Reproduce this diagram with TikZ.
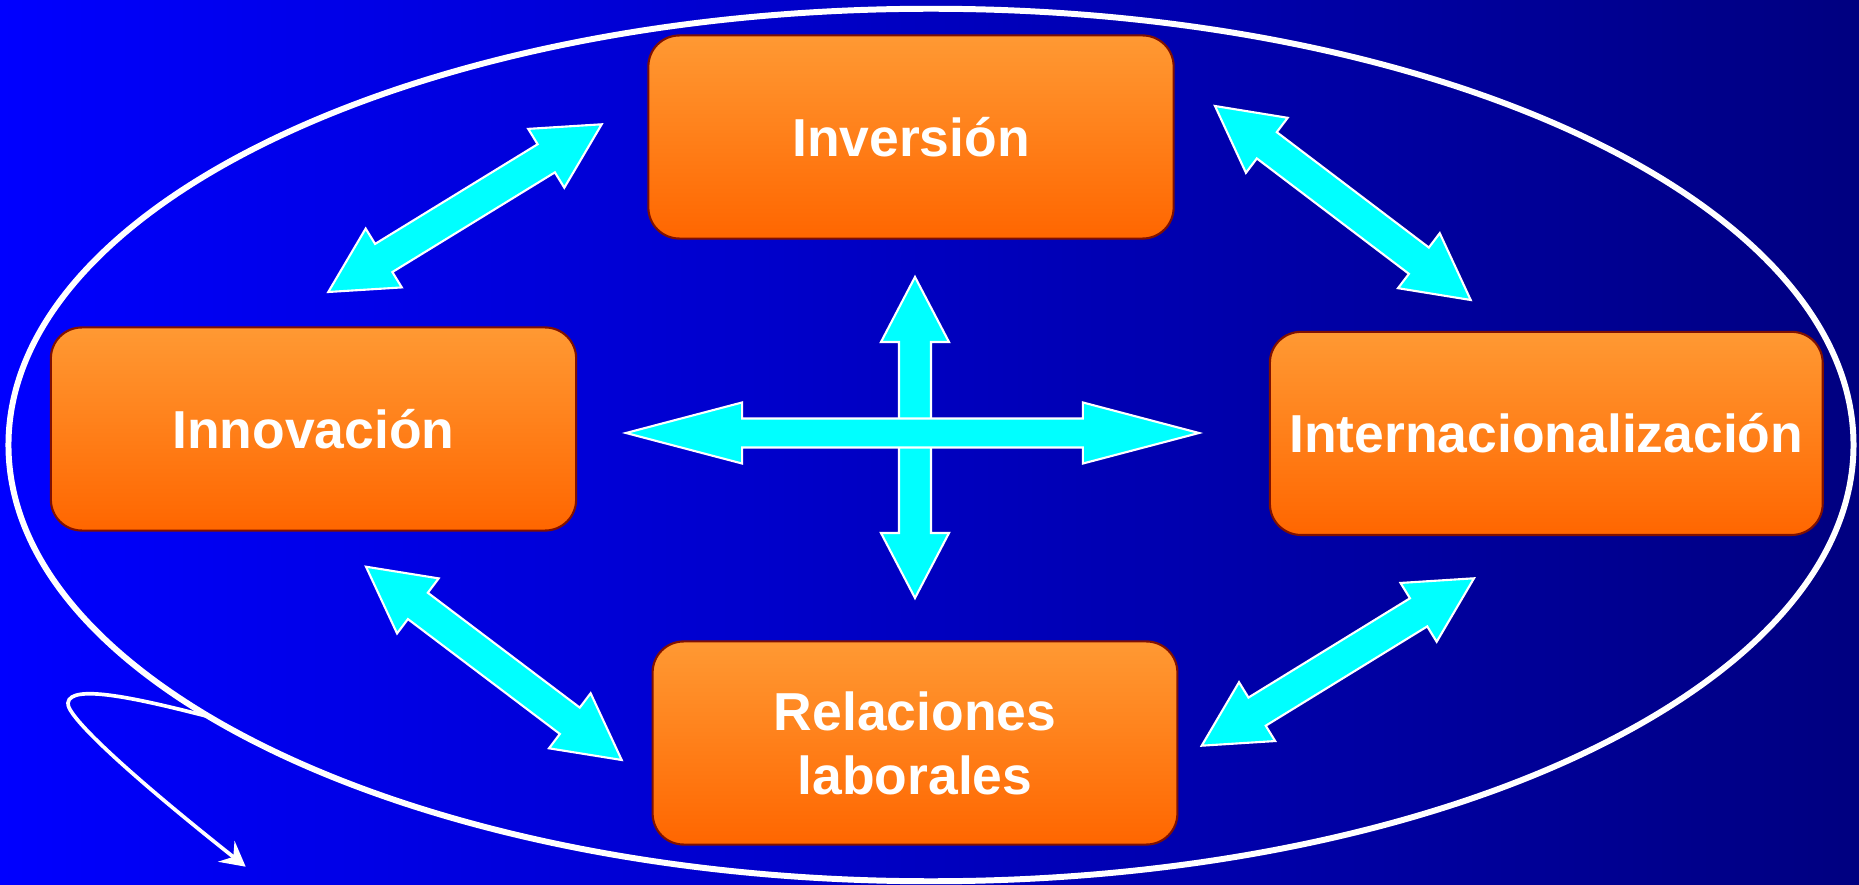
\documentclass[tikz,border=0pt]{standalone}
\usepackage{fontspec}
\setmainfont{Liberation Sans}
\usetikzlibrary{calc,arrows.meta}
\definecolor{bgleft}{RGB}{0,0,255}
\definecolor{bgright}{RGB}{0,0,128}
\definecolor{boxtop}{RGB}{255,153,51}
\definecolor{boxbot}{RGB}{255,102,0}
\definecolor{boxline}{RGB}{128,16,0}
\definecolor{arrowfill}{RGB}{0,255,255}
\tikzset{
  box/.style={rectangle, rounded corners=0.31cm, top color=boxtop, bottom color=boxbot,
    draw=boxline, line width=0.6pt, minimum height=2.03cm, inner sep=0pt,
    font=\fontsize{15.2}{18.2}\selectfont\bfseries, text=white, align=center},
  oneline/.style={text height=10.9pt, text depth=0pt},
  fatarrowstyle/.style={fill=arrowfill, draw=white, line width=0.6pt, line join=miter},
  ring/.style={draw=white, line width=1.7pt},
  curl/.style={draw=white, line width=1.05pt, -{Stealth[length=7pt,width=7.5pt,inset=2.5pt]}},
}
% #1 from, #2 to, #3 half shaft width, #4 half head width, #5 head length
\newcommand\fatarrow[5]{%
  \path[fatarrowstyle] let \p1=(#1), \p2=(#2), \n1={atan2(\y2-\y1,\x2-\x1)} in
    (\p1) -- ($(\p1)+(\n1:#5)+(\n1+90:#4)$) -- ($(\p1)+(\n1:#5)+(\n1+90:#3)$)
    -- ($(\p2)+(\n1+180:#5)+(\n1+90:#3)$) -- ($(\p2)+(\n1+180:#5)+(\n1+90:#4)$)
    -- (\p2) -- ($(\p2)+(\n1+180:#5)+(\n1-90:#4)$) -- ($(\p2)+(\n1+180:#5)+(\n1-90:#3)$)
    -- ($(\p1)+(\n1:#5)+(\n1-90:#3)$) -- ($(\p1)+(\n1:#5)+(\n1-90:#4)$) -- cycle;%
}
\begin{document}
\begin{tikzpicture}[x=0.01cm, y=-0.01cm]
\useasboundingbox (0,0) rectangle (1859,885);
\shade[left color=bgleft, right color=bgright] (0,0) rectangle (1859,885);

% outer ring and curl arrow
\draw[ring] (931,445) ellipse [x radius=9.22cm, y radius=4.36cm];
\coordinate (curlstart) at (210,717);
\coordinate (curlend) at (245.7,866.7);
\draw[curl] (curlstart) .. controls (140,699) and (70,683) .. (68,703)
  .. controls (66,716) and (130,775) .. (curlend);

% boxes
\node[box, oneline, minimum width=5.25cm] (inv) at (911,137) {Inversión};
\node[box, oneline, minimum width=5.25cm] (inn) at (313.5,429) {Innovación};
\node[box, oneline, minimum width=5.525cm] (int) at (1546.3,433.4) {Internacionalización};
\node[box, minimum width=5.245cm] (rel) at (915,743) {Relaciones\\laborales};

% arrow end points
\coordinate (tlA) at (328.3,292);   \coordinate (tlB) at (601.7,124.3);
\coordinate (trA) at (1215,106);    \coordinate (trB) at (1470.7,300);
\coordinate (blA) at (366,566.7);   \coordinate (blB) at (621.7,760);
\coordinate (brA) at (1201.7,745.7);\coordinate (brB) at (1474,578.3);
\coordinate (vA) at (915,277);      \coordinate (vB) at (915,598);
\coordinate (hA) at (626,433);      \coordinate (hB) at (1199,433);

% diagonal double arrows
\fatarrow{tlA}{tlB}{0.165cm}{0.345cm}{0.65cm}
\fatarrow{trA}{trB}{0.165cm}{0.345cm}{0.65cm}
\fatarrow{blA}{blB}{0.165cm}{0.345cm}{0.65cm}
\fatarrow{brA}{brB}{0.165cm}{0.345cm}{0.65cm}

% central cross
\fatarrow{vA}{vB}{0.16cm}{0.34cm}{0.65cm}
\fatarrow{hA}{hB}{0.145cm}{0.305cm}{1.16cm}
\end{tikzpicture}
\end{document}
